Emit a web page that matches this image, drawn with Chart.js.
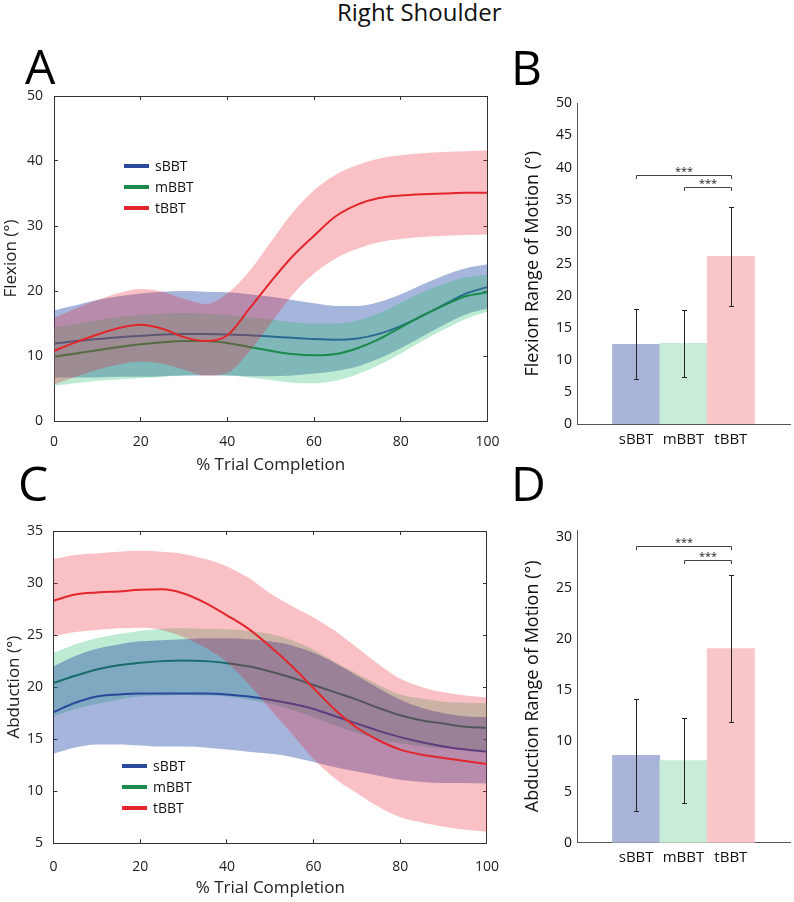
<!DOCTYPE html>
<html>
<head>
<meta charset="utf-8">
<script src="https://cdn.jsdelivr.net/npm/chart.js@4.4.1/dist/chart.umd.min.js"></script>
<style>
  body { margin: 0; background: #fff; font-family: "Open Sans", sans-serif; color: #111; }
  #page { position: relative; width: 794px; height: 902px; overflow: hidden; }
  .box { position: absolute; }
  .letter { position: absolute; font-size: 48px; line-height: 48px; color: #000; }
  .title { position: absolute; left: 337px; top: 0; font-size: 24px; line-height: 24px; white-space: nowrap; }
  .leg { position: absolute; font-size: 14px; line-height: 14px; }
  .leg div { display: flex; align-items: center; height: 14px; margin-bottom: 7px; }
  .leg .sw { display: inline-block; width: 25px; height: 4px; margin-right: 6px; }
</style>
</head>
<body>
<div id="page">
  <div class="title">Right Shoulder</div>

  <div class="box" style="left:0; top:60px; width:516px; height:430px;"><canvas id="flexLine"></canvas></div>
  <div class="box" style="left:0; top:470px; width:518px; height:432px;"><canvas id="abdLine"></canvas></div>
  <div class="box" style="left:500px; top:90px; width:294px; height:400px;"><canvas id="flexBar"></canvas></div>
  <div class="box" style="left:500px; top:470px; width:294px; height:432px;"><canvas id="abdBar"></canvas></div>

  <div class="letter" style="left:25px; top:42px;">A</div>
  <div class="letter" style="left:511px; top:43px;">B</div>
  <div class="letter" style="left:18px; top:459px;">C</div>
  <div class="letter" style="left:511px; top:459px;">D</div>

  <div class="leg" id="legA" style="left:124px; top:159px;"></div>
  <div class="leg" id="legC" style="left:122px; top:759px;"></div>
</div>

<script>
// ----------------------
// DATA
// ----------------------
const groups = ["sBBT", "mBBT", "tBBT"];
const pct = [0, 5, 10, 15, 20, 25, 30, 35, 40, 45, 50, 55, 60, 65, 70, 75, 80, 85, 90, 95, 100];

// flexion (A): mean and band edges
const flexS   = [11.9, 12.3, 12.6, 12.9, 13.1, 13.3, 13.4, 13.4, 13.3, 13.2, 13.0, 12.8, 12.6, 12.5, 12.7, 13.4, 14.6, 16.2, 17.9, 19.6, 20.6];
const flexSHi = [17.0, 17.8, 18.6, 19.2, 19.6, 19.9, 20.0, 19.9, 19.8, 19.5, 19.1, 18.6, 18.1, 17.7, 17.7, 18.3, 19.5, 21.0, 22.4, 23.5, 24.1];
const flexSLo = [6.7, 6.7, 6.7, 6.8, 6.8, 6.9, 7.0, 7.0, 7.0, 6.9, 6.9, 7.0, 7.3, 7.7, 8.4, 9.6, 11.2, 13.0, 14.8, 16.4, 17.3];
const flexM   = [9.9, 10.4, 10.9, 11.4, 11.8, 12.1, 12.3, 12.3, 12.0, 11.4, 10.8, 10.3, 10.1, 10.3, 11.2, 12.6, 14.4, 16.2, 17.8, 19.2, 19.8];
const flexMHi = [14.4, 15.0, 15.5, 16.0, 16.3, 16.5, 16.6, 16.5, 16.3, 16.0, 15.6, 15.2, 15.0, 15.0, 15.5, 16.6, 18.2, 19.8, 21.1, 22.1, 22.5];
const flexMLo = [5.4, 5.8, 6.2, 6.4, 6.6, 6.8, 7.0, 7.1, 7.0, 6.7, 6.3, 5.9, 5.8, 6.2, 7.2, 8.6, 10.4, 12.3, 14.1, 15.7, 16.8];
const flexT   = [10.8, 12.1, 13.3, 14.3, 14.8, 14.2, 12.9, 12.3, 13.2, 17.2, 21.4, 25.3, 28.5, 31.5, 33.3, 34.3, 34.7, 34.9, 35.0, 35.1, 35.1];
const flexTHi = [15.8, 17.3, 18.6, 19.7, 20.3, 19.9, 18.8, 18.0, 19.6, 23.0, 27.5, 32.0, 35.5, 37.9, 39.4, 40.4, 40.9, 41.2, 41.4, 41.5, 41.6];
const flexTLo = [5.6, 6.8, 7.9, 8.7, 9.1, 8.8, 7.9, 7.0, 7.4, 10.6, 15.0, 19.4, 22.7, 25.0, 26.5, 27.5, 28.0, 28.3, 28.5, 28.6, 28.7];

// abduction (C)
const abdS   = [17.6, 18.5, 19.1, 19.3, 19.4, 19.4, 19.4, 19.4, 19.3, 19.1, 18.8, 18.4, 17.9, 17.2, 16.5, 15.8, 15.2, 14.7, 14.3, 14.0, 13.8];
const abdSHi = [22.0, 23.0, 23.7, 24.1, 24.4, 24.5, 24.6, 24.7, 24.7, 24.6, 24.4, 24.0, 23.3, 22.3, 21.1, 19.9, 18.8, 18.0, 17.5, 17.2, 17.1];
const abdSLo = [13.6, 14.2, 14.5, 14.5, 14.4, 14.3, 14.3, 14.2, 14.0, 13.8, 13.6, 13.3, 12.8, 12.3, 11.9, 11.5, 11.1, 10.9, 10.8, 10.8, 10.75];
const abdM   = [20.4, 21.1, 21.7, 22.1, 22.35, 22.5, 22.55, 22.5, 22.3, 22.0, 21.5, 20.9, 20.2, 19.5, 18.8, 18.0, 17.3, 16.8, 16.5, 16.2, 16.1];
const abdMHi = [23.3, 24.1, 24.7, 25.1, 25.4, 25.6, 25.65, 25.6, 25.55, 25.4, 25.1, 24.5, 23.6, 22.4, 21.3, 20.2, 19.3, 18.9, 18.6, 18.5, 18.45];
const abdMLo = [17.2, 17.9, 18.4, 18.8, 19.1, 19.2, 19.25, 19.2, 19.1, 18.8, 18.4, 17.8, 17.1, 16.3, 15.6, 15.0, 14.6, 14.3, 14.1, 14.0, 13.9];
const abdT   = [28.3, 28.9, 29.1, 29.2, 29.35, 29.4, 29.0, 28.1, 26.9, 25.6, 23.9, 22.0, 19.9, 17.8, 16.1, 14.9, 14.0, 13.5, 13.2, 12.9, 12.6];
const abdTHi = [32.3, 32.7, 32.85, 33.0, 33.1, 33.0, 32.8, 32.3, 31.6, 30.5, 29.0, 27.8, 26.7, 25.4, 23.8, 22.2, 20.8, 20.0, 19.5, 19.2, 19.0];
const abdTLo = [24.9, 25.3, 25.5, 25.65, 25.7, 25.5, 24.8, 23.8, 22.4, 20.3, 17.9, 15.5, 13.1, 11.2, 9.8, 8.5, 7.5, 7.0, 6.6, 6.3, 6.1];

// range of motion bars (B, D)
const flexRom   = [12.43, 12.6, 26.15];
const flexRomSd = [5.48, 5.25, 7.75];
const abdRom    = [8.58, 8.07, 19.07];
const abdRomSd  = [5.5, 4.13, 7.23];
const sigPairs  = [[1, 3], [2, 3]];
const flexSigY  = [38.9, 37.0];
const abdSigY   = [29.15, 27.8];

const flexTicks = [0, 10, 20, 30, 40, 50];
const abdTicks  = [5, 10, 15, 20, 25, 30, 35];

// ----------------------
// STYLE
// ----------------------
const lineCols = ["#2a489c", "#1b8a4b", "#e2262c"];
const bandCols = ["rgba(20,60,160,0.38)", "rgba(40,190,110,0.3)", "rgba(235,30,45,0.28)"];
const barCols  = ["#a9b4d8", "#c8ecd8", "#f9c6ca"];
const frameCol = "#333";

Chart.defaults.font.family = '"Open Sans", sans-serif';
Chart.defaults.color = "#111";

// legends (html)
function buildLegend(id) {
    document.getElementById(id).innerHTML = groups
        .map((g, k) => `<div><span class="sw" style="background:${lineCols[k]}"></span>${g}</div>`)
        .join("");
}
buildLegend("legA");
buildLegend("legC");

// ----------------------
// PLUGINS (bar panels)
// ----------------------
const errorBars = {
    id: "errorBars",
    afterDatasetsDraw(chart) {
        const { ctx, scales: { y } } = chart;
        const ds = chart.data.datasets[0];
        const meta = chart.getDatasetMeta(0);
        ctx.save();
        ctx.strokeStyle = "#222";
        ctx.lineWidth = 1;
        ctx.beginPath();
        meta.data.forEach((bar, i) => {
            const cx = Math.round(bar.x) + 0.5;
            const hi = Math.round(y.getPixelForValue(ds.data[i].y + ds.errs[i])) + 0.5;
            const lo = Math.round(y.getPixelForValue(ds.data[i].y - ds.errs[i])) + 0.5;
            ctx.moveTo(cx, hi); ctx.lineTo(cx, lo);
            ctx.moveTo(cx - 2.5, hi); ctx.lineTo(cx + 2.5, hi);
            ctx.moveTo(cx - 2.5, lo); ctx.lineTo(cx + 2.5, lo);
        });
        ctx.stroke();
        ctx.restore();
    }
};

const sigBrackets = {
    id: "sigBrackets",
    afterDatasetsDraw(chart, args, opts) {
        const { ctx, scales: { x, y } } = chart;
        ctx.save();
        ctx.strokeStyle = "#444";
        ctx.fillStyle = "#222";
        ctx.lineWidth = 1;
        ctx.font = '11px "Open Sans", sans-serif';
        ctx.textAlign = "center";
        ctx.textBaseline = "alphabetic";
        opts.pairs.forEach((p, k) => {
            const x1 = Math.round(x.getPixelForValue(p[0])) + 0.5;
            const x2 = Math.round(x.getPixelForValue(p[1])) + 0.5;
            const yy = Math.round(y.getPixelForValue(opts.levels[k])) + 0.5;
            const yd = Math.round(y.getPixelForValue(opts.levels[k] - opts.drop));
            ctx.beginPath();
            ctx.moveTo(x1, yd); ctx.lineTo(x1, yy); ctx.lineTo(x2, yy); ctx.lineTo(x2, yd);
            ctx.stroke();
            ctx.fillText("***", (x1 + x2) / 2, yy - 1);
        });
        ctx.restore();
    }
};

// ----------------------
// LINE CHARTS (A, C)
// ----------------------
// layer: stacking rank per group (0 = bottom)
function bandDatasets(means, his, los, layer) {
    const out = [];
    const pts = arr => pct.map((x, i) => ({ x, y: arr[i] }));
    groups.forEach((g, k) => {
        const r = layer[k];
        out.push({ label: g + " upper", data: pts(his[k]), fill: "+1", backgroundColor: bandCols[k],
                   borderColor: "transparent", borderWidth: 0, pointRadius: 0, cubicInterpolationMode: "monotone", order: 6 - 2 * r });
        out.push({ label: g + " lower", data: pts(los[k]), fill: false,
                   borderColor: "transparent", borderWidth: 0, pointRadius: 0, cubicInterpolationMode: "monotone", order: 6 - 2 * r });
        out.push({ label: g, data: pts(means[k]), fill: false, borderColor: lineCols[k],
                   borderWidth: 2, pointRadius: 0, cubicInterpolationMode: "monotone", order: 5 - 2 * r });
    });
    return out;
}

// inward ticks (matlab box): negative tick length, no grid lines inside
const boxGrid = { display: true, drawOnChartArea: false, drawTicks: true, tickLength: -4, color: frameCol, lineWidth: 1 };
const boxBorder = { display: true, color: frameCol, width: 1 };

function lineChart(id, sets, yTicks, yTitle, cfg) {
    const yMin = yTicks[0], yMax = yTicks[yTicks.length - 1], yStep = yTicks[1] - yTicks[0];
    return new Chart(document.getElementById(id), {
        type: "line",
        data: { datasets: sets },
        options: {
            responsive: true,
            maintainAspectRatio: false,
            animation: false,
            events: [],
            layout: { padding: cfg.pad },
            plugins: { legend: { display: false }, tooltip: { enabled: false } },
            scales: {
                x: {
                    type: "linear", position: "bottom", min: 0, max: 100,
                    grid: boxGrid, border: boxBorder,
                    ticks: { stepSize: 20, padding: cfg.xTickPad + 4, font: { size: 14 }, color: "#222", autoSkip: false, maxRotation: 0 },
                    title: { display: true, text: "% Trial Completion", font: { size: 17 }, color: "#222", padding: { top: 0, bottom: cfg.xTitlePad } },
                    afterFit: s => { s.height = cfg.xH; }
                },
                xTop: {
                    type: "linear", position: "top", min: 0, max: 100,
                    grid: boxGrid, border: boxBorder,
                    ticks: { stepSize: 20, display: false },
                    afterFit: s => { s.height = 0; }
                },
                y: {
                    type: "linear", position: "left", min: yMin, max: yMax,
                    grid: boxGrid, border: boxBorder,
                    ticks: { stepSize: yStep, padding: cfg.yTickPad + 4, font: { size: 14 }, color: "#222" },
                    title: { display: true, text: yTitle, font: { size: 17 }, color: "#222", padding: { top: cfg.yTitlePad, bottom: 0 } },
                    afterFit: s => { s.width = cfg.yW; }
                },
                yRight: {
                    type: "linear", position: "right", min: yMin, max: yMax,
                    grid: boxGrid, border: boxBorder,
                    ticks: { stepSize: yStep, display: false },
                    afterFit: s => { s.width = 0; }
                }
            }
        }
    });
}

lineChart("flexLine",
    bandDatasets([flexS, flexM, flexT], [flexSHi, flexMHi, flexTHi], [flexSLo, flexMLo, flexTLo], [0, 1, 2]),
    flexTicks, "Flexion (°)",
    { pad: { top: 36, right: 13, bottom: 5, left: 0 }, xH: 64, yW: 54, xTickPad: 12.6, xTitlePad: 9.8, yTickPad: 11, yTitlePad: 1.3 });

lineChart("abdLine",
    bandDatasets([abdS, abdM, abdT], [abdSHi, abdMHi, abdTHi], [abdSLo, abdMLo, abdTLo], [1, 0, 2]),
    abdTicks, "Abduction (°)",
    { pad: { top: 61, right: 13.3, bottom: 0, left: 0 }, xH: 58.7, yW: 53.5, xTickPad: 15, xTitlePad: 3.8, yTickPad: 10.5, yTitlePad: 3.8 });

// ----------------------
// BAR CHARTS (B, D)
// ----------------------
function barChart(id, vals, sds, yMax, yTitle, sigY, cfg) {
    return new Chart(document.getElementById(id), {
        type: "bar",
        data: {
            datasets: [{
                data: groups.map((g, i) => ({ x: i + 1, y: vals[i] })),
                errs: sds,
                backgroundColor: barCols,
                borderWidth: 0,
                barPercentage: 1,
                categoryPercentage: 1
            }]
        },
        plugins: [errorBars, sigBrackets],
        options: {
            responsive: true,
            maintainAspectRatio: false,
            animation: false,
            events: [],
            layout: { padding: cfg.pad },
            plugins: {
                legend: { display: false }, tooltip: { enabled: false },
                sigBrackets: { pairs: sigPairs, levels: sigY, drop: cfg.drop }
            },
            scales: {
                x: {
                    type: "linear", min: -0.25, max: 4.25, offset: false,
                    grid: { display: false, drawTicks: false, offset: false },
                    border: { display: true, color: "#555", width: 1 },
                    afterBuildTicks: a => { a.ticks = [1, 2, 3].map(v => ({ value: v })); },
                    ticks: { callback: v => groups[v - 1], padding: cfg.xTickPad, font: { size: 15 }, color: "#111", autoSkip: false, maxRotation: 0 },
                    afterFit: s => { s.height = cfg.xH; }
                },
                y: {
                    min: 0, max: yMax,
                    grid: { display: false, drawTicks: false },
                    border: { display: true, color: "#555", width: 1 },
                    ticks: { stepSize: 5, includeBounds: false, padding: 5, font: { size: 14 }, color: "#111" },
                    title: { display: true, text: yTitle, font: { size: 18 }, color: "#111", padding: { top: 22.2, bottom: 0 } },
                    afterFit: s => { s.width = 77; }
                }
            }
        }
    });
}

barChart("flexBar", flexRom, flexRomSd, 50, "Flexion Range of Motion (°)", flexSigY,
    { pad: { top: 12.7, right: 4, bottom: 6, left: 0 }, xH: 60, xTickPad: 6.6, drop: 0.7 });

barChart("abdBar", abdRom, abdRomSd, 30.7, "Abduction Range of Motion (°)", abdSigY,
    { pad: { top: 60, right: 4, bottom: 0, left: 0 }, xH: 59.3, xTickPad: 6, drop: 0.45 });
</script>
</body>
</html>
